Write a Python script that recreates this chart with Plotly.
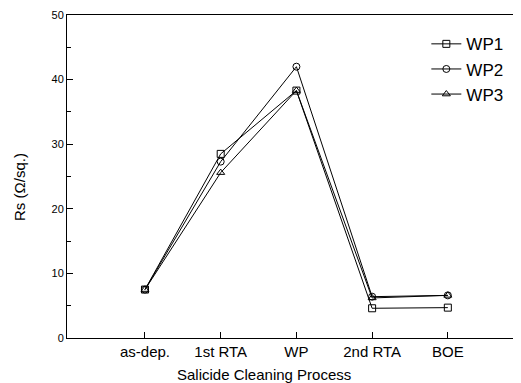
import plotly.graph_objects as go

categories = ["as-dep.", "1st RTA", "WP", "2nd RTA", "BOE"]
wp1 = [7.5, 28.5, 38.3, 4.6, 4.7]
wp2 = [7.5, 27.3, 42.0, 6.4, 6.6]
wp3 = [7.5, 25.6, 38.3, 6.2, 6.6]
y_ticks = [0, 10, 20, 30, 40, 50]

xi = list(range(len(categories)))

fig = go.Figure()
for name, vals, sym in [("WP1", wp1, "square-open"), ("WP2", wp2, "circle-open"), ("WP3", wp3, "triangle-up-open")]:
    fig.add_trace(go.Scatter(
        x=xi, y=vals, name=name, mode="lines+markers",
        line=dict(color="black", width=1),
        marker=dict(symbol=sym, size=7, color="black", line=dict(width=1, color="black")),
    ))

# page body has an 8px margin, so the figure is sized to fill the window from there
fig.update_layout(
    width=513, height=375,
    margin=dict(l=59, r=2, t=7, b=45),
    paper_bgcolor="white", plot_bgcolor="white",
    font=dict(family="Liberation Sans, Arial, sans-serif", color="black", size=11),
    showlegend=True,
    legend=dict(x=0.795, y=0.965, xanchor="left", yanchor="top",
                bgcolor="rgba(0,0,0,0)", font=dict(size=17), tracegroupgap=0,
                itemwidth=30),
    annotations=[
        dict(text="Salicide Cleaning Process", xref="paper", yref="paper",
             x=(264 - 67) / 452, y=-(374 - 338) / 323, xanchor="center", yanchor="middle",
             showarrow=False, font=dict(size=15)),
        dict(text="Rs (Ω/sq.)", xref="paper", yref="paper", textangle=-90,
             x=-(67 - 20) / 452, y=(338 - 187) / 323, xanchor="center", yanchor="middle",
             showarrow=False, font=dict(size=15)),
    ],
)
fig.update_xaxes(
    range=[-1.03, 4.94], tickmode="array", tickvals=xi, ticktext=categories,
    ticks="inside", ticklen=6, tickcolor="black", showgrid=False, zeroline=False,
    showline=True, linecolor="black", linewidth=1, mirror=True,
    tickfont=dict(size=15),
)
fig.update_yaxes(
    range=[0, 50], tickmode="array", tickvals=y_ticks,
    ticks="inside", ticklen=6, tickcolor="black", showgrid=False, zeroline=False,
    showline=True, linecolor="black", linewidth=1, mirror=True,
    minor=dict(ticks="inside", ticklen=4, dtick=5, tickcolor="black", showgrid=False),
    tickfont=dict(size=11),
)

fig.write_html("out.html")
